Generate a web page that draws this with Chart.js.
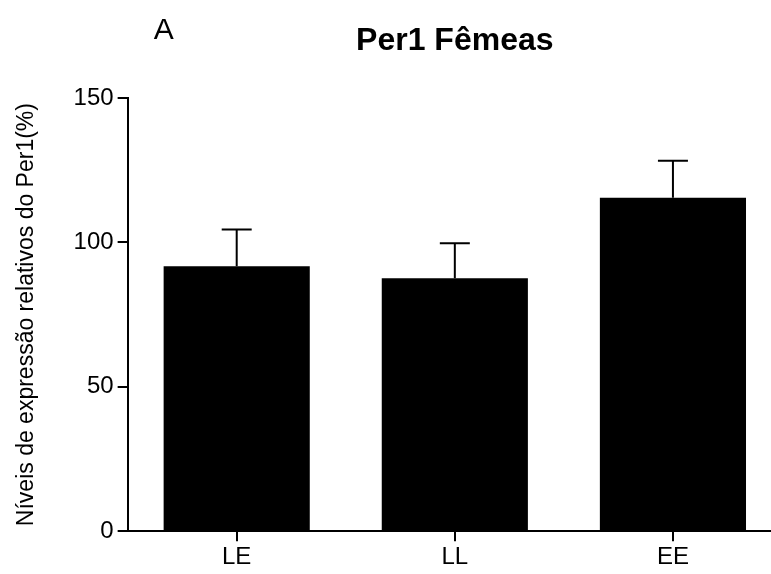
<!DOCTYPE html>
<html>
<head>
<meta charset="utf-8">
<script src="https://cdn.jsdelivr.net/npm/chart.js@4"></script>
<style>
  html, body { margin: 0; padding: 0; background: #fff; overflow: hidden; }
  /* o eixo x original continua além da borda direita da figura */
  #wrap { width: 782px; height: 574px; }
</style>
</head>
<body>
<div id="wrap"><canvas id="grafico"></canvas></div>
<script>
// dados
const grupos = ["LE", "LL", "EE"];
const medias = [91.7, 87.6, 115.5];
const erros = [12.8, 12.1, 12.8];
const ticksY = [0, 50, 100, 150];

const FONTE = "'Liberation Sans', Arial, sans-serif";

// barras de erro (só para cima) e títulos
const extras = {
  id: "extras",
  afterDatasetsDraw(chart) {
    const ctx = chart.ctx;
    const y = chart.scales.y;
    const meta = chart.getDatasetMeta(0);
    ctx.save();
    ctx.strokeStyle = "#000";
    ctx.lineWidth = 2;
    meta.data.forEach((bar, i) => {
      const topo = y.getPixelForValue(medias[i]);
      const fim = y.getPixelForValue(medias[i] + erros[i]);
      ctx.beginPath();
      ctx.moveTo(bar.x, topo);
      ctx.lineTo(bar.x, fim);
      ctx.moveTo(bar.x - 15, fim);
      ctx.lineTo(bar.x + 15, fim);
      ctx.stroke();
    });
    ctx.restore();
  },
  afterDraw(chart) {
    const ctx = chart.ctx;
    const a = chart.chartArea;
    ctx.save();
    ctx.fillStyle = "#000";
    ctx.textBaseline = "middle";
    ctx.textAlign = "center";
    ctx.font = "bold 32px " + FONTE;
    ctx.fillText("Per1 Fêmeas", (a.left + a.right) / 2, 41);
    ctx.font = "30px " + FONTE;
    ctx.fillText("A", a.left + 36, 31);
    ctx.restore();
  }
};

new Chart(document.getElementById("grafico"), {
  type: "bar",
  data: {
    labels: grupos,
    datasets: [{
      data: medias,
      backgroundColor: "#000",
      borderWidth: 0,
      barPercentage: 0.67,
      categoryPercentage: 1.0
    }]
  },
  options: {
    responsive: true,
    maintainAspectRatio: false,
    animation: false,
    layout: { padding: { top: 98, right: 0, bottom: 0, left: 13 } },
    plugins: {
      legend: { display: false },
      tooltip: { enabled: false }
    },
    scales: {
      x: {
        offset: true,
        grid: {
          offset: false,
          drawOnChartArea: false,
          drawTicks: true,
          tickLength: 10,
          color: "#000",
          lineWidth: 2
        },
        border: { display: true, color: "#000", width: 2 },
        ticks: { color: "#000", font: { family: FONTE, size: 24 }, padding: 2 }
      },
      y: {
        min: 0,
        max: 150,
        afterBuildTicks: (s) => { s.ticks = ticksY.map(v => ({ value: v })); },
        grid: {
          drawOnChartArea: false,
          drawTicks: true,
          tickLength: 10,
          color: "#000",
          lineWidth: 2
        },
        border: { display: true, color: "#000", width: 2 },
        ticks: { color: "#000", font: { family: FONTE, size: 24 }, padding: 4 },
        title: {
          display: true,
          text: "Níveis de expressão relativos do Per1(%)",
          color: "#000",
          font: { family: FONTE, size: 23 },
          padding: { top: 0, bottom: 29 }
        }
      }
    }
  },
  plugins: [extras]
});
</script>
</body>
</html>
